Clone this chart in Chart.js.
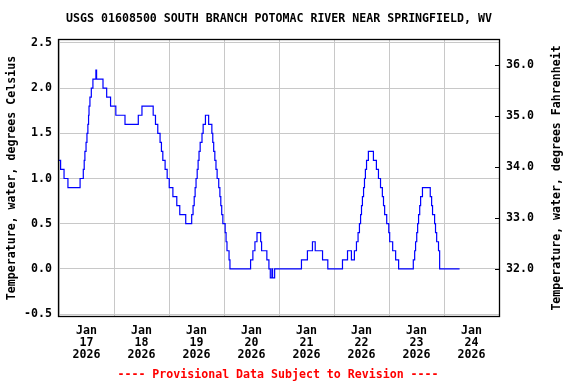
<!DOCTYPE html>
<html><head><meta charset="utf-8">
<script src="https://cdn.jsdelivr.net/npm/chart.js@4/dist/chart.umd.min.js"></script>
<style>html,body{margin:0;padding:0;background:#fff}#wrap{width:576px;height:384px;position:relative}</style>
</head><body><div id="wrap"><canvas id="c"></canvas></div>
<script>
const chartTitle = "USGS 01608500 SOUTH BRANCH POTOMAC RIVER NEAR SPRINGFIELD, WV";
const footerText = "---- Provisional Data Subject to Revision ----";
const leftAxisTitle = "Temperature, water, degrees Celsius";
const rightAxisTitle = "Temperature, water, degrees Fahrenheit";
const dayMonths = ["Jan","Jan","Jan","Jan","Jan","Jan","Jan","Jan"];
const dayNumbers = ["17","18","19","20","21","22","23","24"];
const dayYears = ["2026","2026","2026","2026","2026","2026","2026","2026"];
const celsiusTicks = [-0.5, 0.0, 0.5, 1.0, 1.5, 2.0, 2.5];
const fahrenheitTicks = [32.0, 33.0, 34.0, 35.0, 36.0];
// hours since Jan 17 00:00 where the reading changes, and the reading (deg C)
const hoursSinceStart = [0,0.7,2.2,3.9,9.2,10.6,11.0,11.3,11.8,12.2,12.6,12.9,13.1,13.5,14.1,14.8,16.1,16.4,19.2,20.8,22.5,24.8,28.8,34.6,36.2,41.1,42.1,43.1,44.1,44.7,45.3,46.3,47.2,48.1,49.7,51.4,52.7,55.3,57.9,58.5,59.0,59.4,59.8,60.3,60.7,61.1,61.6,62.4,62.9,63.9,65.3,66.7,67.1,67.5,68.0,68.5,69.0,69.7,70.2,70.6,71.0,71.5,72.5,72.9,73.3,74.2,74.6,83.6,84.6,85.5,86.4,88.0,88.4,90.7,91.6,92.2,92.9,93.2,94.1,105.8,108.4,110.6,111.8,115.0,117.3,123.7,125.9,127.6,128.9,129.8,130.5,131.1,131.6,132.0,132.4,132.9,133.3,133.7,134.2,135.0,137.2,138.5,139.4,140.3,141.1,141.6,142.1,143.0,143.9,144.3,145.6,146.9,148.2,154.6,155.2,155.6,156.1,156.5,156.9,157.4,157.8,158.6,162.0,162.6,163.0,163.9,164.3,164.8,165.6,166.1,174.8];
const waterTempC = [1.2,1.1,1.0,0.9,1.0,1.1,1.2,1.3,1.4,1.5,1.6,1.7,1.8,1.9,2.0,2.1,2.2,2.1,2.0,1.9,1.8,1.7,1.6,1.7,1.8,1.7,1.6,1.5,1.4,1.3,1.2,1.1,1.0,0.9,0.8,0.7,0.6,0.5,0.6,0.7,0.8,0.9,1.0,1.1,1.2,1.3,1.4,1.5,1.6,1.7,1.6,1.5,1.4,1.3,1.2,1.1,1.0,0.9,0.8,0.7,0.6,0.5,0.4,0.3,0.2,0.1,0.0,0.1,0.2,0.3,0.4,0.3,0.2,0.1,0.0,-0.1,0.0,-0.1,0.0,0.1,0.2,0.3,0.2,0.1,0.0,0.1,0.2,0.1,0.2,0.3,0.4,0.5,0.6,0.7,0.8,0.9,1.0,1.1,1.2,1.3,1.2,1.1,1.0,0.9,0.8,0.7,0.6,0.5,0.4,0.3,0.2,0.1,0.0,0.1,0.2,0.3,0.4,0.5,0.6,0.7,0.8,0.9,0.8,0.7,0.6,0.5,0.4,0.3,0.2,0.0,0.0];

const FONT = "'DejaVu Sans Mono', monospace";
const FSIZE = 11.6;
const axisTicksX = [];
for (let d = 0; d <= 8; d++) { axisTicksX.push(d * 24); if (d < 8) axisTicksX.push(d * 24 + 12); }

const decor = {
  id: 'decor',
  afterDraw(chart) {
    const ctx = chart.ctx, a = chart.chartArea;
    ctx.save();
    // inward ticks on right axis
    const y2 = chart.scales.y2;
    ctx.strokeStyle = '#000'; ctx.lineWidth = 1;
    fahrenheitTicks.forEach(v => {
      const py = Math.round(y2.getPixelForValue(v)) + 0.5;
      ctx.beginPath(); ctx.moveTo(a.right - 4, py); ctx.lineTo(a.right, py); ctx.stroke();
    });
    // border
    ctx.strokeStyle = '#000'; ctx.lineWidth = 1.3;
    ctx.strokeRect(a.left - 0.5, a.top - 0.5, a.right - a.left + 1, a.bottom - a.top + 1);
    ctx.font = 'bold ' + FSIZE + 'px ' + FONT;
    ctx.fillStyle = '#000';
    ctx.textAlign = 'center'; ctx.textBaseline = 'middle';
    ctx.fillText(chartTitle, 279, 19);
    ctx.fillStyle = '#ff0000';
    ctx.fillText(footerText, 278, 375);
    ctx.fillStyle = '#000';
    const cy = (a.top + a.bottom) / 2;
    ctx.save(); ctx.translate(12, cy); ctx.rotate(-Math.PI / 2); ctx.fillText(leftAxisTitle, 0, 0); ctx.restore();
    ctx.save(); ctx.translate(557, cy); ctx.rotate(-Math.PI / 2); ctx.fillText(rightAxisTitle, 0, 0); ctx.restore();
    ctx.restore();
  }
};

new Chart(document.getElementById('c'), {
  type: 'line',
  data: { datasets: [{
    data: hoursSinceStart.map((h, i) => ({ x: h, y: waterTempC[i] })),
    borderColor: '#0000ff', borderWidth: 1.2, pointRadius: 0, stepped: true, fill: false
  }]},
  options: {
    responsive: true, maintainAspectRatio: false, animation: false,
    layout: { padding: { top: 40, left: 0, right: 0, bottom: 0 } },
    plugins: { legend: { display: false }, tooltip: { enabled: false }, title: { display: false } },
    scales: {
      x: {
        type: 'linear', min: 0, max: 192, position: 'bottom',
        afterBuildTicks: s => { s.ticks = axisTicksX.map(v => ({ value: v })); },
        afterFit: s => { s.height = 68; },
        grid: { drawTicks: false, color: c => (c.tick && c.tick.value % 24 === 0) ? '#c8c8c8' : 'rgba(0,0,0,0)', lineWidth: 1 },
        border: { display: false },
        ticks: {
          autoSkip: false, maxRotation: 0, minRotation: 0, padding: 8.5, color: '#000',
          font: { family: FONT, size: FSIZE, weight: 'bold', lineHeight: 1.06 },
          callback: v => { if (v % 24 === 12) { const i = (v - 12) / 24; return [dayMonths[i], dayNumbers[i], dayYears[i]]; } return ''; }
        }
      },
      y: {
        type: 'linear', position: 'left', min: -0.522, max: 2.533,
        afterBuildTicks: s => { s.ticks = celsiusTicks.map(v => ({ value: v })); },
        afterFit: s => { s.width = 59; },
        grid: { drawTicks: false, color: '#c8c8c8', lineWidth: 1 },
        border: { display: false },
        ticks: { padding: 7, color: '#000', font: { family: FONT, size: FSIZE, weight: 'bold' }, callback: v => v.toFixed(1) }
      },
      y2: {
        type: 'linear', position: 'right', min: 31.09, max: 36.48,
        afterBuildTicks: s => { s.ticks = fahrenheitTicks.map(v => ({ value: v })); },
        afterFit: s => { s.width = 77; },
        grid: { display: false, drawTicks: false },
        border: { display: false },
        ticks: { padding: 7, color: '#000', font: { family: FONT, size: FSIZE, weight: 'bold' }, callback: v => v.toFixed(1) }
      }
    }
  },
  plugins: [decor]
});
</script></body></html>
